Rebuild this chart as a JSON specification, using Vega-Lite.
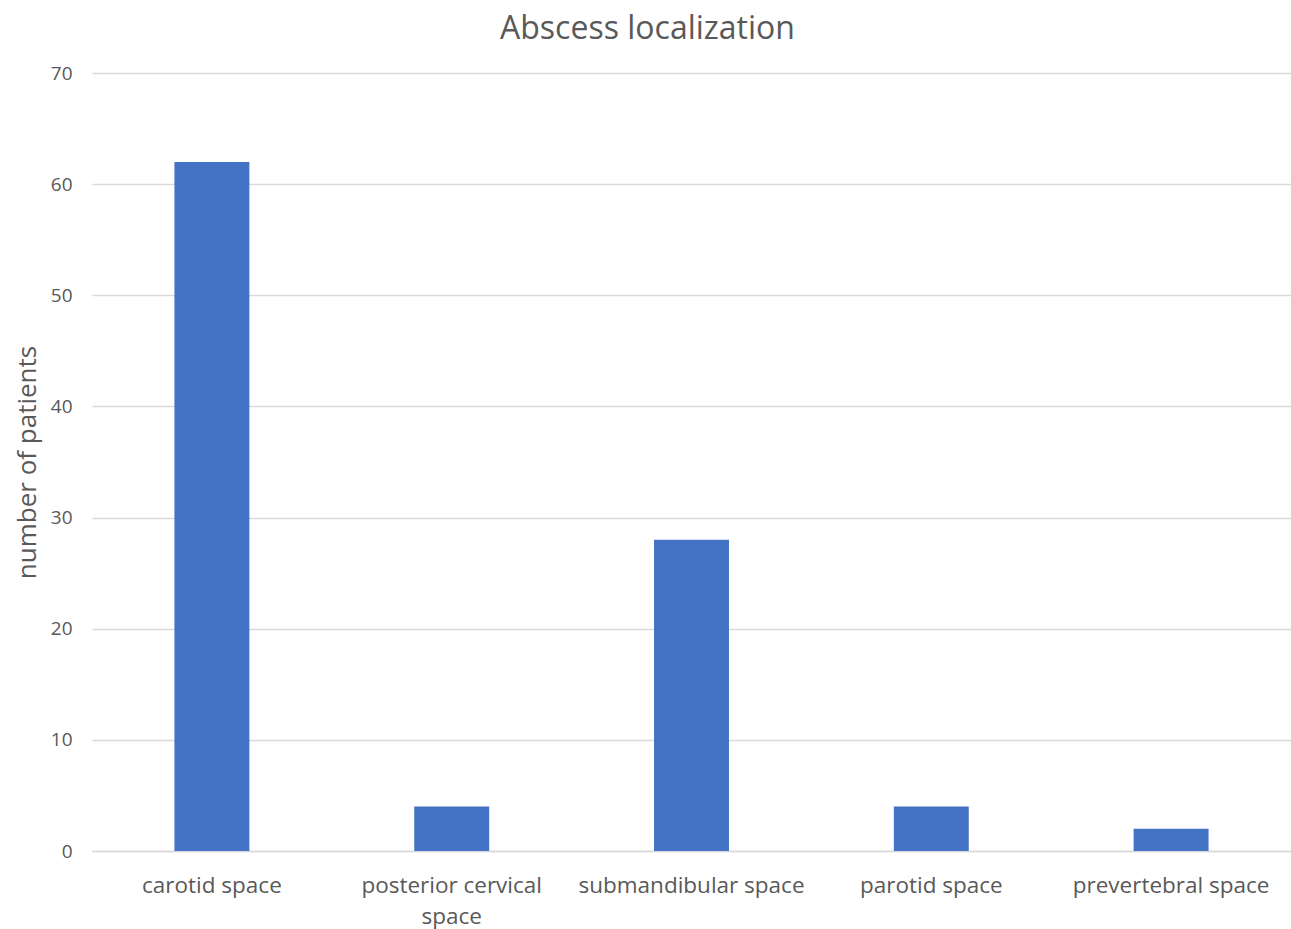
{
  "$schema": "https://vega.github.io/schema/vega-lite/v6.json",
  "width": 1199,
  "height": 778,
  "autosize": {"type": "none"},
  "padding": {"left": 92, "top": 73, "right": 0, "bottom": 78},
  "background": "white",
  "title": {
    "text": "Abscess localization",
    "fontSize": 32,
    "font": "Open Sans",
    "fontWeight": "normal",
    "color": "#595959",
    "offset": 18,
    "anchor": "middle",
    "dx": -44
  },
  "data": {
    "values": [
      {"location": "carotid space", "patients": 62},
      {"location": "posterior cervical space", "patients": 4},
      {"location": "submandibular space", "patients": 28},
      {"location": "parotid space", "patients": 4},
      {"location": "prevertebral space", "patients": 2}
    ]
  },
  "mark": {"type": "bar", "color": "#4472C4"},
  "encoding": {
    "x": {
      "field": "location",
      "type": "nominal",
      "sort": null,
      "scale": {"paddingInner": 0.6875, "paddingOuter": 0.34375},
      "axis": {
        "title": null,
        "labelAngle": 0,
        "labelFontSize": 22.5,
        "labelFont": "Open Sans",
        "labelColor": "#595959",
        "labelPadding": 23,
        "labelLineHeight": 31,
        "labelLimit": 0,
        "ticks": false,
        "domainColor": "#d9d9d9",
        "domainWidth": 1.5,
        "labelExpr": "datum.value == 'posterior cervical space' ? ['posterior cervical', 'space'] : datum.value"
      }
    },
    "y": {
      "field": "patients",
      "type": "quantitative",
      "scale": {"domain": [0, 70]},
      "axis": {
        "title": "number of patients",
        "titleFontSize": 26,
        "titleFont": "Open Sans",
        "titleFontWeight": "normal",
        "titleColor": "#595959",
        "titlePadding": 10,
        "values": [0, 10, 20, 30, 40, 50, 60, 70],
        "labelFontSize": 19,
        "labelFont": "Open Sans",
        "labelColor": "#595959",
        "labelPadding": 20,
        "ticks": false,
        "domain": false,
        "gridColor": "#d9d9d9",
        "gridWidth": 1.5
      }
    }
  },
  "config": {"view": {"stroke": null}}
}
